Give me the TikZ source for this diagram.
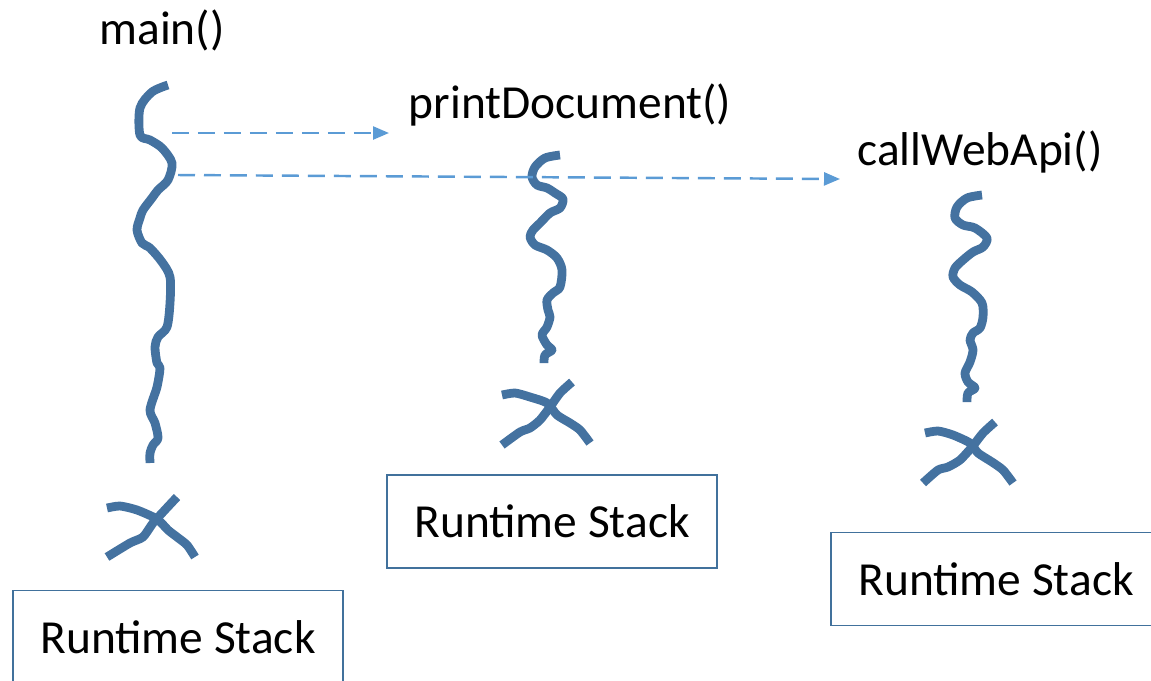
\documentclass[tikz,border=0pt]{standalone}
\usepackage{fontspec}
\setmainfont{Carlito}
\usetikzlibrary{arrows.meta}
\definecolor{wavecol}{RGB}{68,114,160}
\definecolor{callcol}{RGB}{91,155,213}
\definecolor{boxcol}{RGB}{65,113,156}

\begin{document}
\begin{tikzpicture}[x=0.02cm,y=-0.02cm,
    wave/.style={wavecol,line width=5pt,line join=round},
    call/.style={callcol,line width=1.4pt,dash pattern=on 0.34cm off 0.18cm,
        -{Triangle[length=0.32cm,width=0.26cm]}},
    stack box/.style={draw=boxcol,line width=0.9pt,minimum width=6.6cm,minimum height=1.86cm,
        inner sep=0pt,font=\fontsize{27}{30}\selectfont},
    fn label/.style={font=\fontsize{27}{30}\selectfont,inner sep=0pt}]
    \useasboundingbox (0,0) rectangle (1151,680);
        \node [fn label] (main) at (162,30) {main()};
        \node [fn label] (print) at (570,105) {printDocument()};
        \node [fn label] (web) at (980,152) {callWebApi()};
        \node [stack box] (stack1) at (178,637) {Runtime Stack};
        \node [stack box] (stack2) at (552,521.5) {Runtime Stack};
        \node [stack box] (stack3) at (996,579) {Runtime Stack};
        % main thread
        \draw [wave] plot [smooth,tension=0.5] coordinates {(168,85) (152,92) (140,108) (140,135) (150,140)
            (162,148) (172,163) (168,180) (158,190) (152,198) (143,210) (140,218) (137,230) (142,243)
            (150,248) (162,262) (170,277) (170,303) (167,327) (158,337) (155,347) (157,363) (160,368)
            (157,387) (150,410) (155,423) (158,438) (153,445) (150,453) (150,463)};
        \draw [wave] plot [smooth,tension=0.4] coordinates {(107,508) (120,506) (137,510) (157,519)
            (168,530) (177,537) (187,545) (195,557)};
        \draw [wave] plot [smooth,tension=0.4] coordinates {(177,497) (163,512) (153,523) (143,537)
            (130,543) (107,557)};
        % printDocument thread
        \draw [wave] plot [smooth,tension=0.5] coordinates {(560,155) (545,158) (535,167) (532,177)
            (537,185) (547,188) (555,193) (563,199) (560,208) (550,213) (540,223) (533,230) (530,237)
            (535,245) (547,250) (557,258) (562,270) (560,287) (553,293) (547,300) (548,310) (550,317)
            (547,327) (542,335) (547,345) (552,350) (545,355) (544,363)};
        \draw [wave] plot [smooth,tension=0.4] coordinates {(502,395) (515,393) (530,397) (547,403)
            (557,415) (570,423) (580,430) (590,443)};
        \draw [wave] plot [smooth,tension=0.4] coordinates {(572,382) (560,393) (550,407) (540,420)
            (530,428) (520,432) (502,445)};
        % callWebApi thread
        \draw [wave] plot [smooth,tension=0.5] coordinates {(982,195) (967,198) (957,207) (955,218)
            (963,225) (975,228) (987,238) (983,247) (973,252) (963,260) (955,268) (953,277) (960,285)
            (972,292) (982,303) (983,317) (980,328) (973,333) (970,340) (973,350) (970,362) (965,373)
            (968,382) (975,388) (968,393) (967,402)};
        \draw [wave] plot [smooth,tension=0.4] coordinates {(925,433) (938,431) (953,435) (970,443)
            (978,453) (992,462) (1003,470) (1013,483)};
        \draw [wave] plot [smooth,tension=0.4] coordinates {(995,422) (983,433) (972,447) (960,460)
            (948,467) (938,470) (923,483)};
        % calls
        \coordinate (c1from) at (172,133);
        \coordinate (c1to) at (389,133);
        \coordinate (c2from) at (178,175);
        \coordinate (c2to) at (840,179);
        \draw [call] (c1from) -- (c1to);
        \draw [call] (c2from) -- (c2to);
    \end{tikzpicture}
\end{document}
